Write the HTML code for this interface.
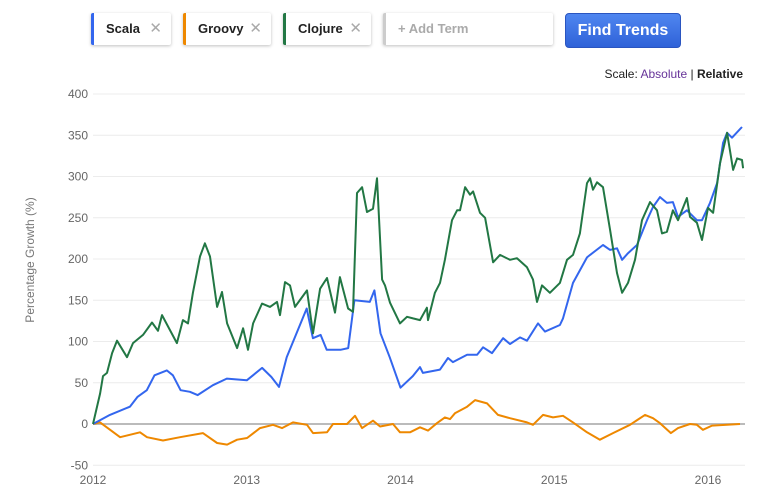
<!DOCTYPE html>
<html><head><meta charset="utf-8"><style>
body{margin:0;width:774px;height:501px;background:#fff;font-family:"Liberation Sans",sans-serif;overflow:hidden;position:relative}
.chip{position:absolute;top:13px;height:32px;background:#fff;box-shadow:0 1px 3px rgba(0,0,0,.25);border-radius:2px;font-size:13px;font-weight:bold;line-height:32px;box-sizing:border-box;padding-left:12px;color:#222}
.chip .x{position:absolute;right:9px;top:0;color:#aaa;font-weight:normal;font-size:15px}
.btn{position:absolute;left:565px;top:13px;width:116px;height:35px;background:linear-gradient(#4f86f0,#2f62d8);border:1px solid #2a55c0;border-radius:4px;color:#fff;font-weight:bold;font-size:16px;line-height:34px;text-align:center;box-sizing:border-box}
svg{position:absolute;left:0;top:0}
</style></head><body>
<div class="chip" style="left:91px;width:80px;border-left:3px solid #3366ee">Scala<span class="x">✕</span></div>
<div class="chip" style="left:183px;width:88px;border-left:3px solid #ee8800">Groovy<span class="x">✕</span></div>
<div class="chip" style="left:283px;width:88px;border-left:3px solid #227744">Clojure<span class="x">✕</span></div>
<div class="chip" style="left:383px;width:170px;border-left:3px solid #ccc;color:#aaa;font-size:13px">+ Add Term</div>
<div class="btn">Find Trends</div>
<div style="position:absolute;right:31px;top:67px;font-size:12px;color:#222">Scale: <span style="color:#663399">Absolute</span> | <b>Relative</b></div>
<svg id="chart" width="774" height="501"></svg>
<script>
const yTicks=[400,350,300,250,200,150,100,50,0,-50];
const xTicks=[2012,2013,2014,2015,2016];
const scalaT=[0,.11,.24,.29,.35,.40,.48,.52,.57,.63,.68,.78,.87,1.0,1.10,1.16,1.21,1.26,1.35,1.39,1.43,1.48,1.52,1.61,1.66,1.70,1.80,1.83,1.87,1.93,2.0,2.08,
 2.127,2.146,2.257,2.309,2.341,2.433,2.498,2.537,2.595,2.667,2.712,2.777,2.823,2.894,2.940,3.037,3.057,3.122,3.213,3.233,3.317,3.363,3.408,3.441,3.480,3.538,3.603,3.642,3.688,3.733,3.772,3.805,3.863,3.928,3.961,4.013,4.059,4.098,4.124,4.156,4.221];
const scalaV=[0,11,21,33,41,59,65,59,41,39,35,47,55,53,68,57,45,81,122,140,104,108,90,90,92,150,148,162,110,81,44,58,
 69,62,66,80,75,84,84,93,86,104,97,105,101,122,112,120,128,171,202,205,217,211,213,199,207,217,247,263,275,268,269,251,259,247,247,268,292,341,353,347,360];
const clojT=[0,.046,.065,.091,.124,.156,.221,.26,.325,.384,.423,.449,.546,.585,.618,.65,.696,.728,.761,.807,.839,.872,.937,.976,1.008,1.041,1.099,1.151,1.197,1.216,1.249,1.281,1.314,1.392,1.431,1.477,1.522,1.574,1.606,1.659,1.691,1.717,1.75,1.782,1.821,1.847,1.88,1.899,1.932,1.997,2.042,2.081,
 2.127,2.172,2.179,2.224,2.257,2.289,2.335,2.368,2.387,2.420,2.452,2.472,2.517,2.550,2.602,2.647,2.712,2.758,2.823,2.862,2.888,2.920,2.972,3.037,3.083,3.122,3.167,3.213,3.233,3.252,3.278,3.317,3.363,3.408,3.441,3.480,3.525,3.571,3.623,3.668,3.701,3.733,3.772,3.805,3.863,3.883,3.928,3.961,4.0,4.033,4.078,4.124,4.163,4.189,4.221,4.228];
const clojV=[0,37,58,62,86,101,81,98,108,123,113,132,98,126,122,159,203,219,203,142,160,122,92,116,90,122,146,142,148,132,172,168,142,162,110,164,177,135,178,140,136,280,287,257,261,298,175,168,147,122,130,128,
 126,141,126,159,171,199,247,259,259,287,278,282,256,250,196,205,199,201,190,175,148,168,159,171,199,205,231,292,298,284,293,287,235,183,159,171,199,247,269,259,231,233,259,247,274,251,244,223,262,256,316,353,308,322,320,310];
const grooT=[0,.046,.176,.306,.351,.455,.566,.715,.807,.872,.937,1.002,1.086,1.171,1.229,1.301,1.392,1.431,1.522,1.561,1.652,1.704,1.75,1.821,1.867,1.951,1.997,2.062,
 2.127,2.179,2.237,2.289,2.322,2.354,2.433,2.485,2.563,2.634,2.712,2.823,2.862,2.927,2.992,3.057,3.122,3.213,3.297,3.382,3.493,3.590,3.642,3.688,3.759,3.805,3.883,3.928,3.967,4.026,4.208];
const grooV=[0,2,-16,-10,-16,-20,-16,-11,-23,-25,-19,-17,-5,-1,-5,2,-1,-11,-10,0,0,10,-5,4,-3,0,-10,-10,
 -4,-8,1,8,6,13,21,29,25,11,7,2,-1,11,8,10,2,-10,-19,-11,-1,11,7,1,-11,-5,0,-1,-7,-2,0];
const X0=93,PXY=153.75,Y0=424,PXV=0.825;
const xs=t=>X0+t*PXY, ys=v=>Y0-v*PXV;
const svg=document.getElementById('chart'),NS='http://www.w3.org/2000/svg';
function mk(tag,a){const e=document.createElementNS(NS,tag);for(const k in a)e.setAttribute(k,a[k]);svg.appendChild(e);return e;}
yTicks.forEach(v=>{
 const l=mk('line',{x1:X0,x2:745,y1:ys(v),y2:ys(v),stroke:v===0?'#bbb':'#ececec','stroke-width':v===0?2:1});
 
 
 const t=mk('text',{x:88,y:ys(v)+4,'text-anchor':'end','font-size':12,fill:'#666'});t.textContent=v;
 
 
});
xTicks.forEach(y=>{
 const t=mk('text',{x:xs(y-2012),y:484,'text-anchor':'middle','font-size':12,fill:'#666'});t.textContent=y;
 
 
});
const yt=mk('text',{x:0,y:0,transform:'translate(34,260) rotate(-90)','text-anchor':'middle','font-size':12,fill:'#777'});yt.textContent='Percentage Growth (%)';


function line(ts,vals,col,name){
 const d=vals.map((v,i)=>(i?'L':'M')+xs(ts[i]).toFixed(1)+','+ys(v).toFixed(1)).join('');
 const p=mk('path',{d:d,fill:'none',stroke:col,'stroke-width':2,'stroke-linejoin':'round'});
 
 
}
line(grooT,grooV,'#ee8800','groovy-line');
line(scalaT,scalaV,'#3366ee','scala-line');
line(clojT,clojV,'#227744','clojure-line');
</script>
</body></html>
